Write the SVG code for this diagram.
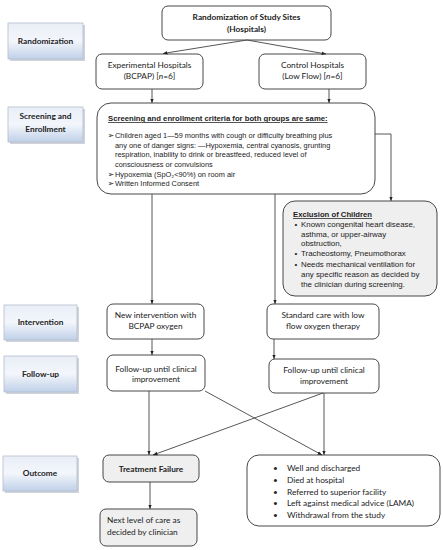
<svg xmlns="http://www.w3.org/2000/svg" width="443" height="550" viewBox="0 0 443 550">
<defs>
<linearGradient id="lg" x1="0" y1="0" x2="0" y2="1">
<stop offset="0" stop-color="#e9eef7"/>
<stop offset="0.5" stop-color="#f3f6fb"/>
<stop offset="1" stop-color="#bfd0e8"/>
</linearGradient>
<marker id="ah" viewBox="0 0 10 10" refX="10" refY="5" markerWidth="5" markerHeight="5" orient="auto">
<path d="M0,1 L10,5 L0,9 z" fill="#222"/>
</marker>
</defs>
<style>
.lab{fill:url(#lg);stroke:#b3bfcf;stroke-width:0.8}
.shd{fill:#d0d4da}
.box{fill:#fff;stroke:#333;stroke-width:0.9}
.gbox{fill:#efefef;stroke:#333;stroke-width:0.9}
.c{font-family:Lato,"Liberation Sans",sans-serif;font-size:8.3px;fill:#222}
.cb{font-family:Lato,"Liberation Sans",sans-serif;font-size:8.3px;font-weight:bold;fill:#222}
.a{font-family:"Liberation Sans",Arial,sans-serif;font-size:7.4px;fill:#222}
.ax{font-family:"Liberation Sans",Arial,sans-serif;font-size:7.9px;fill:#222}
.ab{font-family:"Liberation Sans",Arial,sans-serif;font-size:7.7px;font-weight:bold;fill:#222;text-decoration:underline}
.arw{font-family:"DejaVu Sans",sans-serif;font-size:8px;fill:#222}
.m{text-anchor:middle}
.ln{stroke:#444;stroke-width:0.9;fill:none}
.ar{stroke:#444;stroke-width:0.9;fill:none;marker-end:url(#ah)}
</style>

<g id="lab-randomization">
<rect class="shd" x="10" y="25" width="75" height="36"/>
<rect class="lab" x="8" y="23" width="75" height="36"/>
<text class="cb m" x="45.5" y="44">Randomization</text>
</g>
<g id="lab-screening">
<rect class="shd" x="10" y="109" width="75" height="35"/>
<rect class="lab" x="8" y="107" width="75" height="35"/>
<text class="cb m" x="45.5" y="119">Screening and</text>
<text class="cb m" x="45.5" y="132">Enrollment</text>
</g>
<g id="lab-intervention">
<rect class="shd" x="6" y="307" width="73" height="35"/>
<rect class="lab" x="4" y="305" width="73" height="35"/>
<text class="cb m" x="40.5" y="325">Intervention</text>
</g>
<g id="lab-followup">
<rect class="shd" x="6" y="358" width="73" height="36"/>
<rect class="lab" x="4" y="356" width="73" height="36"/>
<text class="cb m" x="40.5" y="377">Follow-up</text>
</g>
<g id="lab-outcome">
<rect class="shd" x="5" y="458" width="74" height="35"/>
<rect class="lab" x="3" y="456" width="74" height="35"/>
<text class="cb m" x="40" y="476">Outcome</text>
</g>

<g id="n-random">
<rect class="box" x="162" y="6" width="169" height="34" rx="6"/>
<text class="cb m" x="246.5" y="20">Randomization of Study Sites</text>
<text class="cb m" x="246.5" y="31.5">(Hospitals)</text>
</g>
<g id="n-exp">
<rect class="box" x="96" y="54" width="107" height="35" rx="6"/>
<text class="c m" x="149.5" y="68">Experimental Hospitals</text>
<text class="c m" x="149.5" y="79">(BCPAP) [<tspan font-style="italic">n</tspan>=6]</text>
</g>
<g id="n-ctrl">
<rect class="box" x="259" y="54" width="107" height="35" rx="6"/>
<text class="c m" x="312.5" y="68">Control Hospitals</text>
<text class="c m" x="312.5" y="79">(Low Flow) [<tspan font-style="italic">n</tspan>=6]</text>
</g>
<g id="n-screen">
<rect class="box" x="97" y="103" width="278" height="91" rx="14"/>
<text class="ab" x="108" y="121">Screening and enrollment criteria for both groups are same:</text>
<text class="arw" x="107.5" y="138">➢</text>
<text class="a" x="115" y="138">Children aged 1—59 months with cough or difficulty breathing plus</text>
<text class="a" x="115" y="147.5">any one of danger signs: —Hypoxemia, central cyanosis, grunting</text>
<text class="a" x="115" y="157">respiration, inability to drink or breastfeed, reduced level of</text>
<text class="a" x="115" y="166.5">consciousness or convulsions</text>
<text class="arw" x="107.5" y="177">➢</text>
<text class="a" x="115" y="177">Hypoxemia (SpO₂&lt;90%) on room air</text>
<text class="arw" x="107.5" y="186">➢</text>
<text class="a" x="115" y="186">Written Informed Consent</text>
</g>
<g id="n-excl">
<rect class="gbox" x="283" y="201" width="154" height="95" rx="12"/>
<text class="ab" x="293" y="217">Exclusion of Children</text>
<text class="ax" x="294.5" y="227">•</text><text class="ax" x="301" y="227">Known congenital heart disease,</text>
<text class="ax" x="301" y="236.5">asthma, or upper-airway</text>
<text class="ax" x="301" y="246">obstruction,</text>
<text class="ax" x="294.5" y="256">•</text><text class="ax" x="301" y="256">Tracheostomy, Pneumothorax</text>
<text class="ax" x="294.5" y="267">•</text><text class="ax" x="301" y="267">Needs mechanical ventilation for</text>
<text class="ax" x="301" y="277">any specific reason as decided by</text>
<text class="ax" x="301" y="287">the clinician during screening.</text>
</g>
<g id="n-int-exp">
<rect class="box" x="107" y="304" width="97" height="35" rx="6"/>
<text class="c m" x="155.5" y="318">New intervention with</text>
<text class="c m" x="155.5" y="329">BCPAP oxygen</text>
</g>
<g id="n-int-ctrl">
<rect class="box" x="267" y="304" width="112" height="35" rx="6"/>
<text class="c m" x="323" y="318">Standard care with low</text>
<text class="c m" x="323" y="329">flow oxygen therapy</text>
</g>
<g id="n-fu-exp">
<rect class="box" x="107" y="355" width="98" height="36" rx="6"/>
<text class="c m" x="156" y="372">Follow-up until clinical</text>
<text class="c m" x="156" y="382">improvement</text>
</g>
<g id="n-fu-ctrl">
<rect class="box" x="269" y="359" width="110" height="34" rx="6"/>
<text class="c m" x="324" y="373">Follow-up until clinical</text>
<text class="c m" x="324" y="383.5">improvement</text>
</g>
<g id="n-fail">
<rect class="gbox" x="103" y="455" width="96" height="27" rx="6"/>
<text class="cb m" x="151" y="472">Treatment Failure</text>
</g>
<g id="n-next">
<rect class="gbox" x="100" y="509" width="97" height="37" rx="6"/>
<text class="c" x="107" y="523">Next level of care as</text>
<text class="c" x="107" y="534.5">decided by clinician</text>
</g>
<g id="n-outcomes">
<rect class="box" x="247" y="455" width="193" height="71" rx="12"/>
<g class="c">
<text x="273" y="471">•</text><text x="287" y="471">Well and discharged</text>
<text x="273" y="483">•</text><text x="287" y="483">Died at hospital</text>
<text x="273" y="495">•</text><text x="287" y="495">Referred to superior facility</text>
<text x="273" y="506">•</text><text x="287" y="506">Left against medical advice (LAMA)</text>
<text x="273" y="518">•</text><text x="287" y="518">Withdrawal from the study</text>
</g>
</g>

<g id="connectors">
<line class="ar" x1="247" y1="40" x2="163" y2="53.5"/>
<line class="ar" x1="247" y1="40" x2="326" y2="54"/>
<line class="ar" x1="152" y1="89" x2="152" y2="103"/>
<line class="ar" x1="329" y1="89" x2="329" y2="103"/>
<polyline class="ar" points="375,134 391,134 391,201"/>
<line class="ar" x1="152" y1="194" x2="152" y2="304"/>
<line class="ar" x1="275" y1="194" x2="275" y2="304"/>
<line class="ar" x1="152" y1="339" x2="152" y2="355"/>
<line class="ar" x1="274" y1="339" x2="274" y2="359"/>
<line class="ar" x1="149" y1="391" x2="149" y2="455"/>
<line class="ar" x1="205" y1="391" x2="322" y2="455"/>
<line class="ar" x1="324" y1="393" x2="324" y2="455"/>
<line class="ar" x1="323" y1="393" x2="153" y2="455"/>
<line class="ar" x1="150" y1="482" x2="150" y2="509"/>
</g>
</svg>
